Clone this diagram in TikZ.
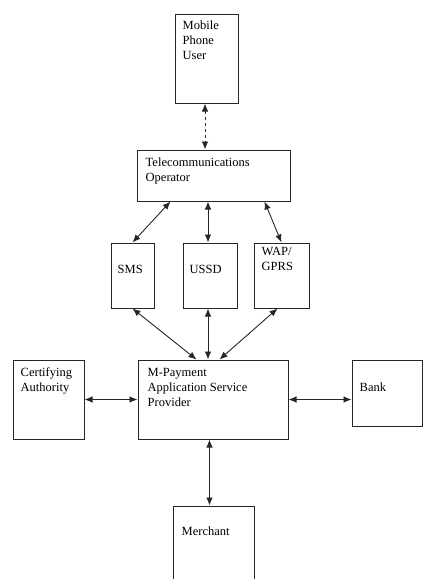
\documentclass[tikz,border=0pt]{standalone}
\usepackage{fontspec}
\setmainfont{Liberation Serif}
\usetikzlibrary{arrows.meta,positioning}

\begin{document}
\begin{tikzpicture}[x=1pt,y=1pt,
    box/.style={draw=black!85,line width=1pt,inner sep=0pt},
    txt/.style={anchor=base west,inner sep=0pt,align=left,text=black,
                font=\fontsize{12.5}{15}\selectfont},
    link/.style={draw=black!85,line width=0.9pt,
                 {Latex[length=8pt,width=6.5pt]}-{Latex[length=8pt,width=6.5pt]}}]
    \useasboundingbox (0,0) rectangle (423,-579);

    % boxes
    \node[box,minimum width=63pt,minimum height=89pt]  (user)  at (206.5,-58.5) {};
    \node[box,minimum width=153pt,minimum height=51pt] (tel)   at (213.5,-175.5) {};
    \node[box,minimum width=43pt,minimum height=65pt]  (sms)   at (132.5,-275.5) {};
    \node[box,minimum width=54pt,minimum height=65pt]  (ussd)  at (210,-275.5) {};
    \node[box,minimum width=55pt,minimum height=65pt]  (wap)   at (281.5,-275.5) {};
    \node[box,minimum width=150pt,minimum height=79pt] (mp)    at (213,-399.5) {};
    \node[box,minimum width=71pt,minimum height=79pt]  (ca)    at (48.5,-399.5) {};
    \node[box,minimum width=70pt,minimum height=66pt]  (bank)  at (387,-393) {};
    \node[box,minimum width=81pt,minimum height=84pt]  (merch) at (213.5,-548) {};

    % labels (anchored at the baseline of the last line)
    \node[txt] (userT)  at ([shift={(8pt,-46pt)}]user.north west)  {Mobile\\Phone\\User};
    \node[txt] (telT)   at ([shift={(9pt,-32pt)}]tel.north west)   {Telecommunications\\Operator};
    \node[txt] (smsT)   at ([shift={(7pt,-31pt)}]sms.north west)   {SMS};
    \node[txt] (ussdT)  at ([shift={(7pt,-31pt)}]ussd.north west)  {USSD};
    \node[txt] (wapT)   at ([shift={(8pt,-28pt)}]wap.north west)   {WAP/\\GPRS};
    \node[txt] (mpT)    at ([shift={(10pt,-47pt)}]mp.north west)   {M-Payment\\Application Service\\Provider};
    \node[txt] (caT)    at ([shift={(8pt,-32pt)}]ca.north west)    {Certifying\\Authority};
    \node[txt] (bankT)  at ([shift={(8pt,-32pt)}]bank.north west)  {Bank};
    \node[txt] (merchT) at ([shift={(9pt,-30pt)}]merch.north west) {Merchant};

    % connectors
    \draw[link,dashed] ([xshift=-1.5pt]user.south) -- ([xshift=-1.5pt]user.south |- tel.north);
    \draw[link] ([xshift=34pt]tel.south west) -- (sms.north);
    \draw[link] ([xshift=-2pt]ussd.north |- tel.south) -- ([xshift=-2pt]ussd.north);
    \draw[link] ([xshift=-26pt]tel.south east) -- (wap.north);
    \draw[link] (sms.south) -- ([xshift=59pt]mp.north west);
    \draw[link] ([xshift=-2pt]ussd.south) -- ([xshift=-2pt]ussd.south |- mp.north);
    \draw[link] ([xshift=-4pt]wap.south) -- ([xshift=82pt]mp.north west);
    \draw[link] (ca.east) -- (mp.west);
    \draw[link] (mp.east) -- (mp.east -| bank.west);
    \draw[link] ([xshift=-4pt]merch.north |- mp.south) -- ([xshift=-4pt]merch.north);
\end{tikzpicture}
\end{document}
